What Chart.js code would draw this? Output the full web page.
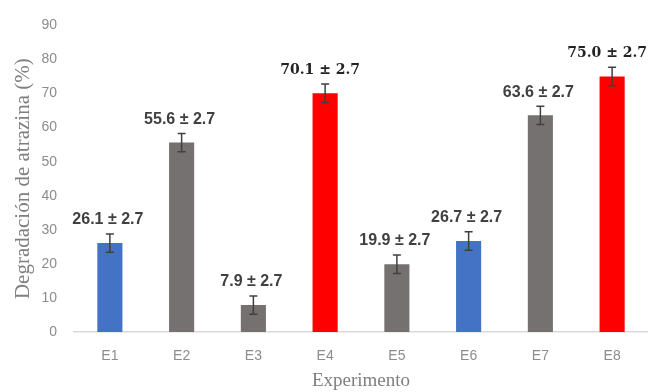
<!DOCTYPE html>
<html>
<head>
<meta charset="utf-8">
<script src="https://cdn.jsdelivr.net/npm/chart.js@4.4.0/dist/chart.umd.min.js"></script>
<style>
    html, body { margin: 0; padding: 0; background: #fff; }
    #wrap { width: 648px; height: 392px; position: relative; }
</style>
</head>
<body>
<div id="wrap"><canvas id="chart"></canvas></div>
<script>
const experiments = ['E1', 'E2', 'E3', 'E4', 'E5', 'E6', 'E7', 'E8'];
const degradation = [26.1, 55.6, 7.9, 70.1, 19.9, 26.7, 63.6, 75.0];
const stdError = [2.7, 2.7, 2.7, 2.7, 2.7, 2.7, 2.7, 2.7];
const yTicks = [0, 10, 20, 30, 40, 50, 60, 70, 80, 90];

const BLUE = '#4472C4', GREY = '#767171', RED = '#FF0000';
const barColors = [BLUE, GREY, GREY, RED, GREY, BLUE, GREY, RED];
// best results get the bold serif label, like in the original
const highlight = [false, false, false, true, false, false, false, true];

const errorBars = {
    id: 'errorBars',
    afterDatasetsDraw(chart) {
        const ctx = chart.ctx;
        const y = chart.scales.y;
        const meta = chart.getDatasetMeta(0);
        ctx.save();
        meta.data.forEach((bar, i) => {
            const top = y.getPixelForValue(degradation[i] + stdError[i]);
            const bottom = y.getPixelForValue(degradation[i] - stdError[i]);
            ctx.strokeStyle = '#404040';
            ctx.lineWidth = 1.5;
            ctx.beginPath();
            ctx.moveTo(bar.x, top); ctx.lineTo(bar.x, bottom);
            ctx.moveTo(bar.x - 4, top); ctx.lineTo(bar.x + 4, top);
            ctx.moveTo(bar.x - 4, bottom); ctx.lineTo(bar.x + 4, bottom);
            ctx.stroke();

            const text = degradation[i].toFixed(1) + ' \u00b1 ' + stdError[i].toFixed(1);
            ctx.textAlign = 'center';
            ctx.textBaseline = 'middle';
            if (highlight[i]) {
                ctx.font = 'bold 14px "DejaVu Serif"';
                ctx.fillStyle = '#222';
            } else {
                ctx.font = 'bold 16px "Liberation Sans Narrow", "Liberation Sans"';
                ctx.fillStyle = '#404040';
            }
            ctx.fillText(text, bar.x - (highlight[i] ? 5 : 2), top - 14);
        });
        ctx.restore();
    }
};

new Chart(document.getElementById('chart'), {
    type: 'bar',
    data: {
        labels: experiments,
        datasets: [{
            data: degradation,
            backgroundColor: barColors,
            barPercentage: 0.35,
            categoryPercentage: 1.0
        }]
    },
    options: {
        responsive: true,
        maintainAspectRatio: false,
        animation: false,
        layout: { padding: { top: 16, right: 0, left: 0, bottom: 0 } },
        plugins: {
            legend: { display: false },
            tooltip: { enabled: false }
        },
        scales: {
            x: {
                grid: { display: false, drawTicks: false },
                border: { display: true, color: '#d9d9d9', width: 1.5 },
                ticks: {
                    color: '#8c8c8c',
                    font: { family: '"Liberation Sans Narrow", "Liberation Sans"', size: 14 },
                    padding: 16
                },
                title: {
                    display: true,
                    text: 'Experimento',
                    color: '#7f7f7f',
                    font: { family: '"Liberation Serif"', size: 19 },
                    padding: { top: 0, bottom: 0 }
                },
                afterFit(scale) { scale.height = 60; }
            },
            y: {
                min: 0,
                max: 90,
                afterBuildTicks(scale) { scale.ticks = yTicks.map(v => ({ value: v })); },
                grid: { display: false, drawTicks: false },
                border: { display: false },
                ticks: {
                    color: '#8c8c8c',
                    font: { family: '"Liberation Sans Narrow", "Liberation Sans"', size: 14 },
                    padding: 17
                },
                title: {
                    display: true,
                    text: 'Degradación de atrazina (%)',
                    color: '#7f7f7f',
                    font: { family: '"Liberation Serif"', size: 21 },
                    padding: { top: 11, bottom: 0 }
                },
                afterFit(scale) { scale.width = 74; }
            }
        }
    },
    plugins: [errorBars]
});
</script>
</body>
</html>
